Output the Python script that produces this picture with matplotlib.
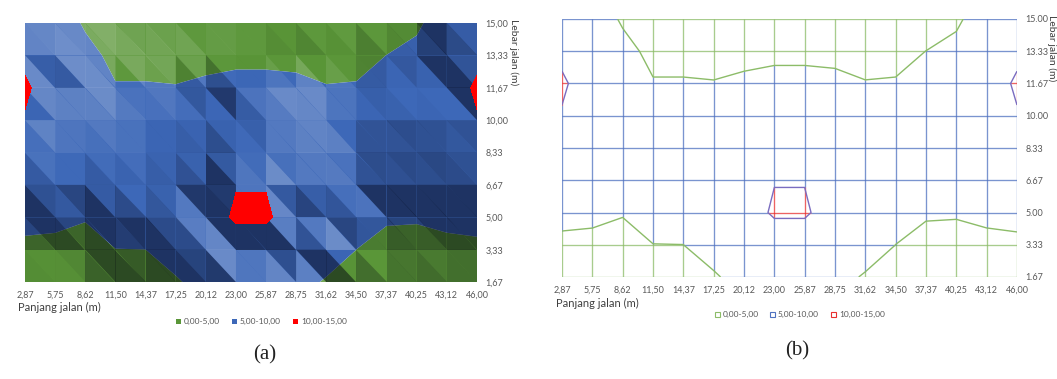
import numpy as np
import matplotlib.pyplot as plt
from matplotlib.collections import LineCollection, PolyCollection
from matplotlib.patches import Rectangle

plt.rcParams['font.family'] = ['Lato', 'DejaVu Sans']

panjang = [2.87, 5.75, 8.62, 11.50, 14.37, 17.25, 20.12, 23.00, 25.87, 28.75, 31.62, 34.50, 37.37, 40.25, 43.12, 46.00]
panjang_lbl = ['2,87', '5,75', '8,62', '11,50', '14,37', '17,25', '20,12', '23,00', '25,87', '28,75',
               '31,62', '34,50', '37,37', '40,25', '43,12', '46,00']
lebar = [1.67, 3.33, 5.00, 6.67, 8.33, 10.00, 11.67, 13.33, 15.00]
lebar_lbl_a = ['1,67', '3,33', '5,00', '6,67', '8,33', '10,00', '11,67', '13,33', '15,00']
lebar_lbl_b = ['1.67', '3.33', '5.00', '6.67', '8.33', '10.00', '11.67', '13.33', '15.00']

# nilai per baris lebar jalan
z_167 = [3.5, 3.0, 2.5, 3.0, 3.5, 4.5, 6.7, 7.5, 7.5, 6.8, 4.5, 3.5, 3.0, 3.0, 3.2, 3.5]
z_333 = [4.25, 3.7, 3.3, 4.95, 4.98, 7.0, 7.5, 6.4, 6.4, 7.0, 7.6, 4.98, 3.9, 3.87, 3.9, 4.2]
z_500 = [6.0, 6.2, 5.3, 6.5, 7.0, 7.5, 7.0, 10.8, 10.8, 7.0, 6.8, 6.5, 5.4, 5.3, 6.0, 6.2]
z_667 = [8.0, 7.5, 7.0, 7.0, 7.0, 7.3, 8.0, 9.77, 9.77, 8.5, 7.8, 7.0, 7.5, 8.0, 8.5, 9.0]
z_833 = [9.0, 8.0, 7.5, 7.2, 7.0, 7.2, 7.6, 8.5, 8.8, 8.5, 7.8, 7.2, 7.8, 8.4, 9.0, 9.4]
z_1000 = [9.6, 8.0, 7.5, 7.0, 6.8, 7.0, 7.3, 7.8, 8.3, 8.0, 7.2, 7.2, 7.8, 8.5, 9.1, 9.6]
z_1167 = [10.8, 7.0, 6.5, 5.1, 5.25, 5.17, 6.1, 7.55, 7.55, 6.5, 5.15, 5.2, 6.0, 6.5, 7.0, 10.8]
z_1333 = [8.7, 8.0, 5.5, 4.6, 4.0, 3.6, 3.2, 3.0, 3.0, 3.3, 3.8, 4.2, 5.02, 5.8, 7.5, 8.7]
z_1500 = [7.0, 6.0, 4.8, 3.5, 3.2, 3.0, 3.0, 2.8, 2.8, 3.0, 3.2, 3.4, 3.8, 4.5, 6.7, 7.5]

kelas = [0, 5, 10, 15]
kelas_lbl = ['0,00-5,00', '5,00-10,00', '10,00-15,00']

Z = np.array([z_167, z_333, z_500, z_667, z_833, z_1000, z_1167, z_1333, z_1500])
X, Y = np.meshgrid(panjang, lebar)
nr, nc = Z.shape

fill_a = ['#5a9638', '#3d68b8', '#ff0000']
line_b = ['#8cbc68', '#4f72c0', '#e83030']

W, H = 1057, 379
fig = plt.figure(figsize=(W / 100, H / 100), dpi=100)
fig.patch.set_facecolor('white')

# ---------------- (a) contour terisi dengan bayangan ----------------
ax1 = fig.add_axes([25 / W, 1 - 282 / H, 452 / W, 259 / H])
ax1.contourf(X, Y, Z, levels=kelas[:3], colors=fill_a[:2], antialiased=True)

# segitiga tiap sel (diagonal kiri-atas ke kanan-bawah) untuk efek bayangan
tris = []
for r in range(nr - 1):
    for c in range(nc - 1):
        bl = r * nc + c
        br = bl + 1
        tl = bl + nc
        tr = tl + 1
        tris.append([tl, bl, br])
        tris.append([tl, br, tr])
tris = np.array(tris)
px = np.tile(np.arange(nc), nr).astype(float)
py = np.repeat(np.arange(nr), nc).astype(float)
pz = Z.ravel() * 0.4
p = np.stack([px, py, pz], axis=1)
n = np.cross(p[tris[:, 1]] - p[tris[:, 0]], p[tris[:, 2]] - p[tris[:, 0]])
n[n[:, 2] < 0] *= -1
n /= np.linalg.norm(n, axis=1)[:, None]
L = np.array([1.0, 0.7, 1.2])
L /= np.linalg.norm(L)
shade = np.clip((n @ L - L[2]) / 0.4, -1, 1)

face = np.zeros((len(tris), 4))
dark = shade < 0
face[dark, :3] = [0.0, 0.0, 0.06]
face[dark, 3] = -shade[dark] * 0.5
face[~dark, :3] = [1.0, 1.0, 1.0]
face[~dark, 3] = shade[~dark] * 0.35
xy = np.stack([X.ravel(), Y.ravel()], axis=1)
polys = [xy[t] for t in tris]
ax1.add_collection(PolyCollection(polys, facecolors=face, edgecolors='none', linewidths=0, zorder=2))
ax1.contourf(X, Y, Z, levels=[10, 15], colors=[fill_a[2]], zorder=3)

# ---------------- (b) wireframe ----------------
ax2 = fig.add_axes([562 / W, 1 - 277 / H, 455 / W, 258 / H])


def band_segments(t, vals):
    pts = np.linspace(t[0], t[-1], 1200)
    zz = np.interp(pts, t, vals)
    zm = 0.5 * (zz[1:] + zz[:-1])
    idx = np.clip(np.digitize(zm, kelas[1:3]), 0, 2)
    return pts, [line_b[i] for i in idx]


for r in range(nr):
    xs, cols = band_segments(panjang, Z[r])
    segs = [[(xs[i], lebar[r]), (xs[i + 1], lebar[r])] for i in range(len(xs) - 1)]
    ax2.add_collection(LineCollection(segs, colors=cols, linewidths=0.9))
for c in range(nc):
    ys, cols = band_segments(lebar, Z[:, c])
    segs = [[(panjang[c], ys[i]), (panjang[c], ys[i + 1])] for i in range(len(ys) - 1)]
    ax2.add_collection(LineCollection(segs, colors=cols, linewidths=0.9))
ax2.contour(X, Y, Z, levels=[5], colors=[line_b[0]], linewidths=1.0)
ax2.contour(X, Y, Z, levels=[10], colors=['#7a6cc0'], linewidths=1.0)

for ax, ylbls in [(ax1, lebar_lbl_a), (ax2, lebar_lbl_b)]:
    ax.set_xlim(panjang[0], panjang[-1])
    ax.set_ylim(lebar[0], lebar[-1])
    ax.set_xticks(panjang)
    ax.set_xticklabels(panjang_lbl, fontsize=6.5, color='#595959')
    ax.set_yticks(lebar)
    ax.set_yticklabels(ylbls, fontsize=6.5, color='#595959')
    ax.yaxis.tick_right()
    ax.tick_params(length=0, pad=6)
    for s in ax.spines.values():
        s.set_visible(False)

# label sumbu dan legenda
fig.text(514 / W, 1 - 52 / H, 'Lebar jalan (m)', rotation=270, ha='center', va='center',
         fontsize=7.5, color='#404040')
fig.text(1052 / W, 1 - 48 / H, 'Lebar jalan (m)', rotation=270, ha='center', va='center',
         fontsize=7.5, color='#404040')
fig.text(18 / W, 1 - 307 / H, 'Panjang jalan (m)', ha='left', va='center', fontsize=8, color='#404040')
fig.text(556 / W, 1 - 303 / H, 'Panjang jalan (m)', ha='left', va='center', fontsize=8, color='#404040')

leg_x_a = [176, 232, 293]
leg_x_b = [715, 770, 831]
sq = 5
for i in range(3):
    fig.add_artist(Rectangle((leg_x_a[i] / W, 1 - (321 + sq / 2) / H), sq / W, sq / H,
                             transform=fig.transFigure, facecolor=fill_a[i], edgecolor='none'))
    fig.text((leg_x_a[i] + 8) / W, 1 - 321 / H, kelas_lbl[i], color='#595959', fontsize=6,
             ha='left', va='center')
    fig.add_artist(Rectangle((leg_x_b[i] / W, 1 - (314 + sq / 2) / H), sq / W, sq / H,
                             transform=fig.transFigure, facecolor='white', edgecolor=line_b[i],
                             linewidth=0.8))
    fig.text((leg_x_b[i] + 8) / W, 1 - 314 / H, kelas_lbl[i], color='#595959', fontsize=6,
             ha='left', va='center')

fig.text(265 / W, 1 - 355 / H, '(a)', ha='center', va='center', fontsize=15,
         family='Liberation Serif', color='#222222')
fig.text(797 / W, 1 - 351 / H, '(b)', ha='center', va='center', fontsize=15,
         family='Liberation Serif', color='#222222')

fig.savefig('out.png', dpi=100)
